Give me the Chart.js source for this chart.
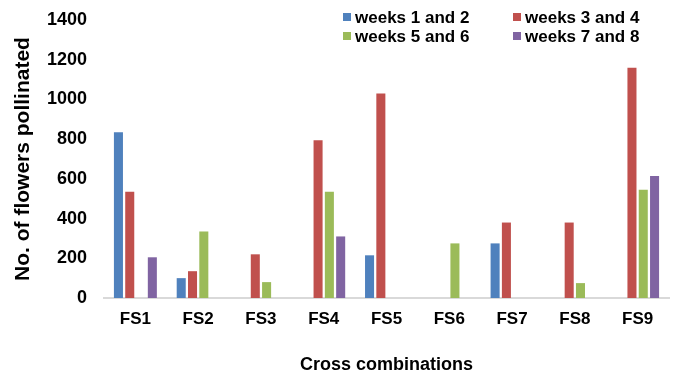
<!DOCTYPE html>
<html>
<head>
<meta charset="utf-8">
<script src="https://cdn.jsdelivr.net/npm/chart.js@4"></script>
<style>
  html, body { margin: 0; padding: 0; background: #fff; }
  #wrap { width: 674px; height: 376px; }
</style>
</head>
<body>
<div id="wrap"><canvas id="c" width="674" height="376"></canvas></div>
<script>
const categories = ['FS1', 'FS2', 'FS3', 'FS4', 'FS5', 'FS6', 'FS7', 'FS8', 'FS9'];
const seriesLabels = ['weeks 1 and 2', 'weeks 3 and 4', 'weeks 5 and 6', 'weeks 7 and 8'];
const weeks12 = [835, 100, 0, 0, 215, 0, 275, 0, 0];
const weeks34 = [535, 135, 220, 795, 1030, 0, 380, 380, 1160];
const weeks56 = [0, 335, 80, 535, 0, 275, 0, 75, 545];
const weeks78 = [205, 0, 0, 310, 0, 0, 0, 0, 615];
const yTicks = [0, 200, 400, 600, 800, 1000, 1200, 1400];
const colors = ['#4F81BD', '#C0504D', '#9BBB59', '#8064A2'];

const FONT = '"Liberation Sans", Arial, sans-serif';

const customLegend = {
  id: 'customLegend',
  afterDraw(chart, args, opts) {
    const ctx = chart.ctx;
    ctx.save();
    ctx.font = 'bold 17px ' + FONT;
    ctx.textBaseline = 'middle';
    ctx.textAlign = 'left';
    chart.data.datasets.forEach((ds, i) => {
      const x = opts.colX[i % 2];
      const y = opts.rowY[Math.floor(i / 2)];
      ctx.fillStyle = ds.backgroundColor;
      ctx.fillRect(x, y - 4, 8, 8);
      ctx.fillStyle = '#000';
      ctx.fillText(ds.label, x + 12, y + 1);
    });
    ctx.restore();
  }
};

const seriesData = [weeks12, weeks34, weeks56, weeks78];

new Chart(document.getElementById('c'), {
  type: 'bar',
  data: {
    labels: categories,
    datasets: seriesData.map((d, i) => ({
      label: seriesLabels[i],
      data: d,
      backgroundColor: colors[i],
      borderWidth: 0,
      categoryPercentage: 0.72,
      barPercentage: 0.8
    }))
  },
  options: {
    responsive: false,
    animation: false,
    layout: { padding: { left: 0, right: 5, top: 20, bottom: 0 } },
    plugins: {
      legend: { display: false },
      tooltip: { enabled: false },
      customLegend: { colX: [343, 513], rowY: [17, 36] }
    },
    scales: {
      x: {
        grid: { display: false, drawTicks: false },
        border: { display: true, color: '#D9D9D9', width: 2 },
        ticks: { color: '#000', font: { family: FONT, size: 17, weight: 'bold' }, padding: 11, maxRotation: 0 },
        title: { display: true, text: 'Cross combinations', color: '#000', font: { family: FONT, size: 18, weight: 'bold' }, padding: { top: 0, bottom: 0 } },
        afterFit(scale) { scale.height = 78; scale.paddingLeft = 0; scale.paddingRight = 0; }
      },
      y: {
        min: 0,
        max: 1400,
        afterBuildTicks(scale) { scale.ticks = yTicks.map(v => ({ value: v })); },
        grid: { display: false, drawTicks: false },
        border: { display: false },
        ticks: { color: '#000', font: { family: FONT, size: 18, weight: 'bold' }, padding: 17, callback: v => String(v) },
        title: { display: true, text: 'No. of flowers pollinated', color: '#000', font: { family: FONT, size: 21, weight: 'bold' }, padding: { top: 11, bottom: 0 } },
        afterFit(scale) { scale.width = 104; scale.paddingTop = 0; scale.paddingBottom = 0; }
      }
    }
  },
  plugins: [customLegend]
});
</script>
</body>
</html>
